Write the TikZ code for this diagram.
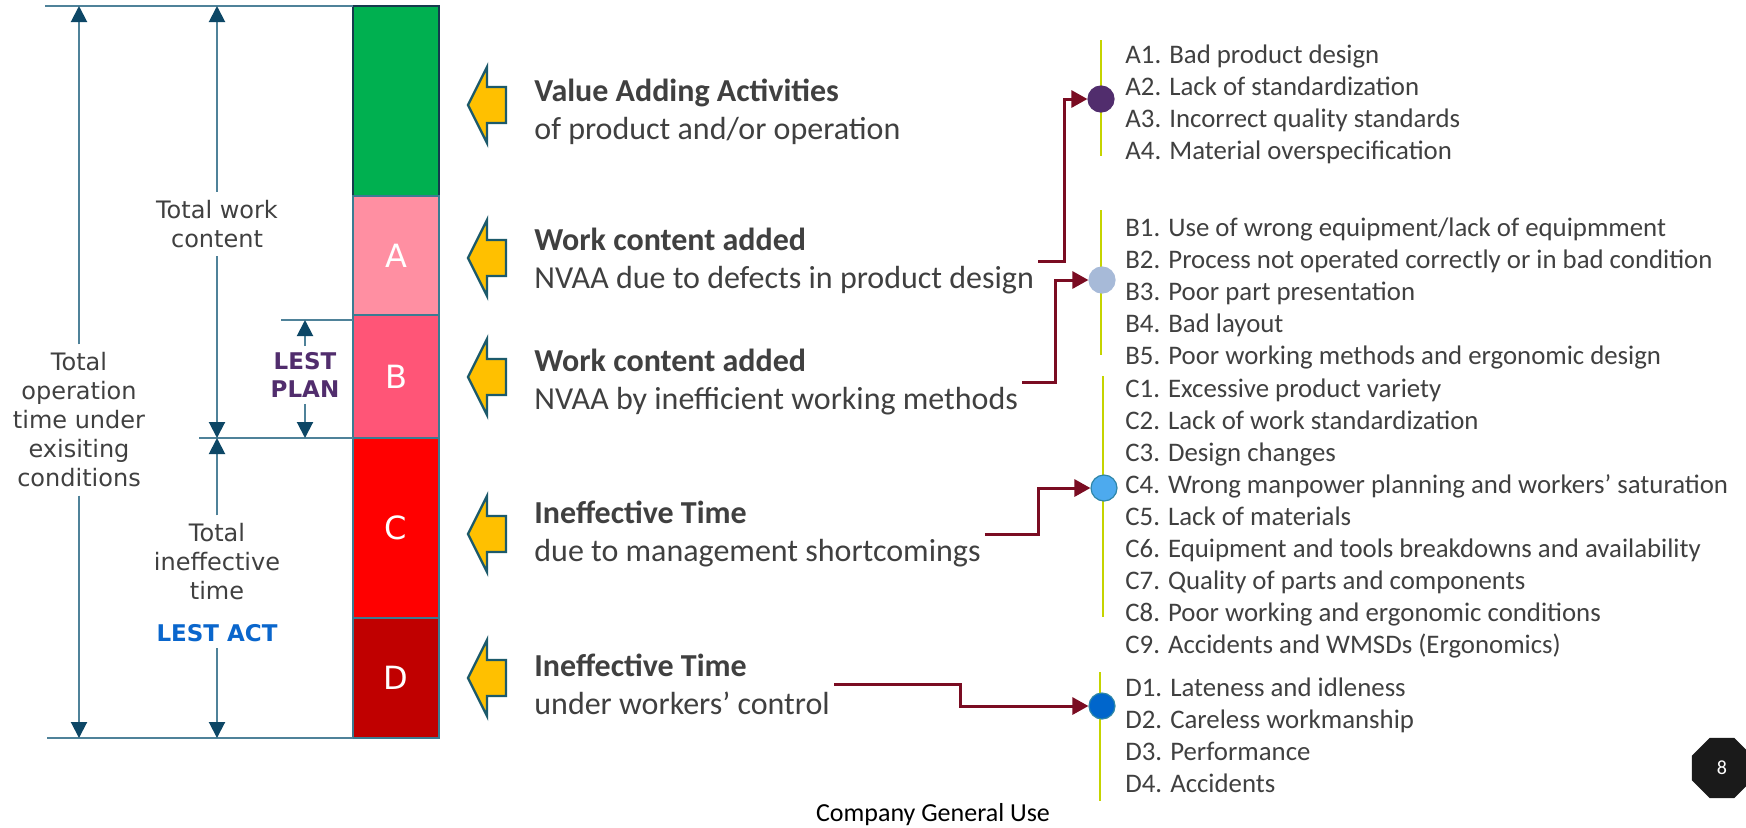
\documentclass[tikz,border=0pt]{standalone}
\usepackage{fontspec}
\setmainfont{Carlito}
\newfontfamily\verdanafont{DejaVu Sans}
\usetikzlibrary{arrows.meta, positioning, calc, shapes.geometric}

\definecolor{dimline}{HTML}{4F8299}
\definecolor{dimtip}{HTML}{0D4766}
\definecolor{txtgray}{HTML}{404040}
\definecolor{lestplancol}{HTML}{512D6D}
\definecolor{lestactcol}{HTML}{0A66CC}
\definecolor{vaagreen}{HTML}{00B050}
\definecolor{vaaedge}{HTML}{163A4D}
\definecolor{segAcol}{HTML}{FF8FA2}
\definecolor{segBcol}{HTML}{FF5577}
\definecolor{segCcol}{HTML}{FF0000}
\definecolor{segDcol}{HTML}{C00000}
\definecolor{segedge}{HTML}{3A7C92}
\definecolor{arrowfill}{HTML}{FFC000}
\definecolor{arrowedge}{HTML}{1C5A6B}
\definecolor{linkred}{HTML}{7A0C22}
\definecolor{listline}{HTML}{C5D400}
\definecolor{dotcolA}{HTML}{512D6D}
\definecolor{dotcolB}{HTML}{A7BAD8}
\definecolor{dotcolC}{HTML}{4DAAEE}
\definecolor{dotcolD}{HTML}{0066CC}
\definecolor{dotedge}{HTML}{2E86A8}
\definecolor{badge}{HTML}{1A1A1A}

\begin{document}
\begin{tikzpicture}[x=0.5pt, y=-0.5pt,
    guide/.style={draw=dimline, line width=1pt},
    dimarrow/.style={guide, -{Triangle[length=8pt, width=8pt, color=dimtip]}},
    dimtext/.style={font=\verdanafont\fontsize{12}{14.5}\selectfont, text=txtgray, align=center, inner sep=4pt},
    lest/.style={font=\verdanafont\bfseries\fontsize{11.5}{14}\selectfont, align=center, inner sep=3pt},
    seg/.style={draw=segedge, line width=1pt, minimum width=43pt, text=white, font=\verdanafont\fontsize{16}{18}\selectfont, inner sep=0pt, outer sep=0pt},
    yarrow/.style={fill=arrowfill, draw=arrowedge, line width=1.2pt, line join=miter},
    cause/.style={anchor=west, align=left, text=txtgray, font=\fontsize{16}{19}\selectfont, inner xsep=2pt},
    link/.style={draw=linkred, line width=1.5pt, -{Triangle[length=8pt, width=8.5pt]}},
    item/.style={anchor=base west, text=txtgray, font=\fontsize{13.4}{16}\selectfont, inner sep=0pt},
    stem/.style={draw=listline, line width=1pt},
    dot/.style={circle, minimum size=13pt, inner sep=0pt, line width=0.6pt, draw=dotedge},
  ]
  \fill[white] (0,0) rectangle (1746,827);
  \useasboundingbox (0,0) rectangle (1746,827);

  % barra dei tempi
  \node[seg, draw=vaaedge, fill=vaagreen, minimum height=95pt] (vaa) at (396,101) {};
  \node[seg, fill=segAcol, minimum height=59.5pt, below=0pt of vaa] (segA) {A};
  \node[seg, fill=segBcol, minimum height=61.5pt, below=0pt of segA] (segB) {B};
  \node[seg, fill=segCcol, minimum height=90pt, below=0pt of segB] (segC) {C};
  \node[seg, fill=segDcol, minimum height=60pt, below=0pt of segC] (segD) {D};

  % linee di riferimento
  \coordinate (toprule) at (45,6);
  \coordinate (planrule) at (281,320);
  \coordinate (midrule) at (199,438);
  \coordinate (botrule) at (47,738);
  \draw[guide] (toprule) -- (vaa.north west);
  \draw[guide] (planrule) -- (planrule -| segB.west);
  \draw[guide] (midrule) -- (segC.north west);
  \draw[guide] (botrule) -- (segD.south west);

  % quote a sinistra
  \node[dimtext] (optime) at (79,420) {Total\\operation\\time under\\exisiting\\conditions};
  \node[dimtext] (workc) at (217,224) {Total work\\content};
  \node[dimtext] (ineff) at (217,562) {Total\\ineffective\\time};
  \node[lest, text=lestactcol] (lestact) at (217,633) {LEST ACT};
  \node[lest, text=lestplancol] (lestplan) at (305,375) {LEST\\PLAN};

  \draw[dimarrow] (optime) -- (optime |- toprule);
  \draw[dimarrow] (optime) -- (optime |- botrule);
  \draw[dimarrow] (workc) -- (workc |- toprule);
  \draw[dimarrow] (workc) -- (workc |- midrule);
  \draw[dimarrow] (ineff) -- (ineff |- midrule);
  \draw[dimarrow] (lestact) -- (lestact |- botrule);
  \draw[dimarrow] (lestplan) -- (lestplan |- planrule);
  \draw[dimarrow] (lestplan) -- (lestplan |- midrule);

  % frecce gialle
  \foreach \y in {105,258,377,534,678}
    \draw[yarrow] (468,\y) -- (487,\y-38) -- (487,\y-18) -- (506,\y-18)
      -- (506,\y+18) -- (487,\y+18) -- (487,\y+38) -- cycle;

  % descrizioni
  \node[cause] (vaatext) at (530,112) {\textbf{Value Adding Activities}\\of product and/or operation};
  \node[cause] (wa) at (530,261) {\textbf{Work content added}\\NVAA due to defects in product design};
  \node[cause] (wb) at (530,382) {\textbf{Work content added}\\NVAA by inefficient working methods};
  \node[cause] (ic) at (530,534) {\textbf{Ineffective Time}\\due to management shortcomings};
  \node[cause] (id) at (530,684) {\textbf{Ineffective Time}\\under workers’ control};

  % elenco A
  \draw[stem] (1101,40) -- (1101,156);
  \node[dot, fill=dotcolA, draw=dotcolA] (dotA) at (1101,99) {};
  \foreach \t [count=\i] in {A1. Bad product design, A2. Lack of standardization,
      A3. Incorrect quality standards, A4. Material overspecification}
    \node[item] (itemA\i) at (1125,31+32*\i) {\t};

  % elenco B
  \draw[stem] (1101,210) -- (1101,355);
  \node[dot, fill=dotcolB, draw=dotcolB] (dotB) at (1102,280) {};
  \foreach \t [count=\i] in {B1. Use of wrong equipment/lack of equipmment,
      B2. Process not operated correctly or in bad condition,
      B3. Poor part presentation, B4. Bad layout,
      B5. Poor working methods and ergonomic design}
    \node[item] (itemB\i) at (1125,204+32*\i) {\t};

  % elenco C
  \draw[stem] (1103,376) -- (1103,617);
  \node[dot, fill=dotcolC] (dotC) at (1104,488) {};
  \foreach \t [count=\i] in {C1. Excessive product variety, C2. Lack of work standardization,
      C3. Design changes, C4. Wrong manpower planning and workers’ saturation,
      C5. Lack of materials, C6. Equipment and tools breakdowns and availability,
      C7. Quality of parts and components, C8. Poor working and ergonomic conditions,
      C9. Accidents and WMSDs (Ergonomics)}
    \node[item] (itemC\i) at (1125,365+32*\i) {\t};

  % elenco D
  \draw[stem] (1100,672) -- (1100,801);
  \node[dot, fill=dotcolD] (dotD) at (1102,706) {};
  \foreach \t [count=\i] in {D1. Lateness and idleness, D2. Careless workmanship,
      D3. Performance, D4. Accidents}
    \node[item] (itemD\i) at (1125,664+32*\i) {\t};

  % collegamenti
  \draw[link] (wa.east) -| ([xshift=-11.5pt]dotA.west) -- (dotA);
  \draw[link] (wb.east) -| ([xshift=-16.5pt]dotB.west) -- (dotB);
  \draw[link] (ic.east) -| ([xshift=-26pt]dotC.west) -- (dotC);
  \draw[link] (id.east) -| ([xshift=-64pt]dotD.west) -- (dotD);

  % pie di pagina
  \node[font=\fontsize{13}{15}\selectfont] (footer) at (933,815) {Company General Use};
  \node[regular polygon, regular polygon sides=8, fill=badge, minimum size=32.5pt,
    inner sep=0pt, text=white, font=\fontsize{10}{12}\selectfont] (pageno) at (1722,768) {8};
\end{tikzpicture}
\end{document}
